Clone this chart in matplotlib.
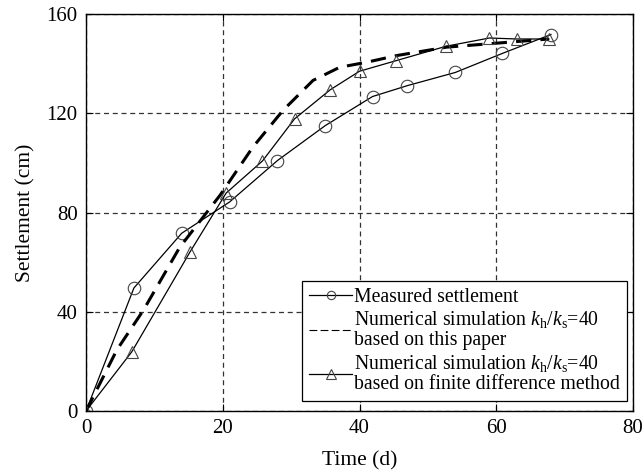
import matplotlib
matplotlib.use("Agg")
import matplotlib.pyplot as plt
from matplotlib.lines import Line2D

plt.rcParams['font.family'] = ['Liberation Serif', 'DejaVu Serif']
plt.rcParams['mathtext.fontset'] = 'custom'
plt.rcParams['mathtext.rm'] = 'Liberation Serif'
plt.rcParams['mathtext.it'] = 'Liberation Serif:italic'

# Measured settlement
meas_t = [0, 7.0, 14.0, 21.0, 28.0, 35.0, 41.9, 47.0, 54.0, 60.9, 68.0]
meas_s = [0, 49.6, 71.7, 84.3, 101.0, 115.1, 126.8, 131.2, 136.5, 144.2, 151.8]

# Numerical simulation based on this paper (dashed)
pap_t = [0, 4.5, 8.4, 13.7, 19.6, 24.4, 28.8, 33.2, 37.1, 41.0, 45.4, 52.7, 60.0, 67.7]
pap_s = [0, 24.6, 40.7, 66.0, 87.0, 106.4, 121.2, 133.3, 138.6, 140.6, 143.3, 146.7, 148.3, 150.0]

# Numerical simulation based on finite difference method
fd_t = [0, 6.7, 15.2, 20.5, 25.8, 30.5, 35.7, 40.0, 45.4, 52.7, 59.0, 63.0, 67.7]
fd_s = [0, 23.9, 64.1, 87.9, 100.8, 117.8, 129.5, 137.0, 141.3, 147.1, 150.4, 150.0, 150.0]

labels = ['Measured settlement',
          'Numerical simulation $k_\\mathrm{h}/k_\\mathrm{s}$=40\nbased on this paper',
          'Numerical simulation $k_\\mathrm{h}/k_\\mathrm{s}$=40\nbased on finite difference method']

xticks = [0, 20, 40, 60, 80]
yticks = [0, 40, 80, 120, 160]

fig = plt.figure(figsize=(6.42, 4.73), dpi=100)
ax = fig.add_axes([0.134, 0.131, 0.852, 0.839])

ax.plot(meas_t, meas_s, color='black', lw=0.9, marker='o', ms=9, mfc='none',
        mec='#444444', mew=0.8)
ax.plot(pap_t, pap_s, color='black', lw=2.2, ls=(0, (5, 3)))
ax.plot(fd_t, fd_s, color='black', lw=0.9, marker='^', ms=9, mfc='none',
        mec='#444444', mew=0.8)

ax.set_xlim(0, 80)
ax.set_ylim(0, 160)
ax.set_xticks(xticks)
ax.set_yticks(yticks)
ax.grid(True, ls=(0, (4, 3)), color='#333333', lw=0.9)
ax.tick_params(direction='in', top=True, right=True, labelsize=15, length=5, pad=6)
for s in ax.spines.values():
    s.set_linewidth(1.0)
ax.set_xlabel('Time (d)', fontsize=15.5, labelpad=9)
ax.set_ylabel('Settlement (cm)', fontsize=15.5, labelpad=8)

handles = [
    Line2D([], [], color='black', lw=0.9, marker='o', ms=6, mfc='none', mec='#444444', mew=0.8),
    Line2D([], [], color='black', lw=0.8, ls=(0, (7, 3))),
    Line2D([], [], color='black', lw=0.9, marker='^', ms=7, mfc='none', mec='#444444', mew=0.8),
]
leg = ax.legend(handles, labels, loc='lower right', bbox_to_anchor=(0.989, 0.025),
                fontsize=14.2, frameon=True, fancybox=False,
                edgecolor='black', framealpha=1, handlelength=2.2, handletextpad=0.1,
                borderpad=0.35, labelspacing=0.12, borderaxespad=0.0)
leg.get_frame().set_linewidth(0.9)
for t in leg.get_texts():
    t.set_linespacing(1.1)

fig.savefig('out.png', dpi=100)
